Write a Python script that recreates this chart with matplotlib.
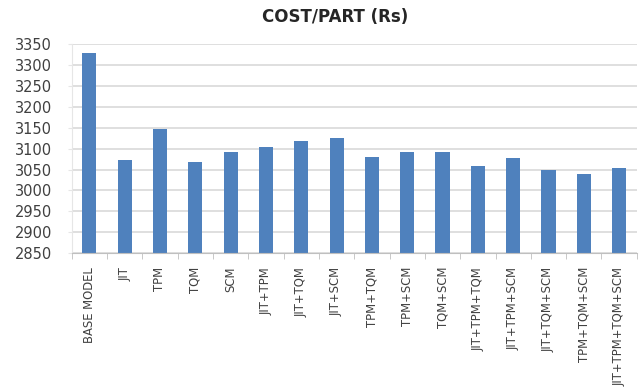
import matplotlib
matplotlib.use("Agg")
import matplotlib.pyplot as plt
from matplotlib.ticker import MultipleLocator

# Cost per part for each improvement strategy
categories = [
    "BASE MODEL", "JIT", "TPM", "TQM", "SCM",
    "JIT+TPM", "JIT+TQM", "JIT+SCM", "TPM+TQM", "TPM+SCM", "TQM+SCM",
    "JIT+TPM+TQM", "JIT+TPM+SCM", "JIT+TQM+SCM", "TPM+TQM+SCM",
    "JIT+TPM+TQM+SCM",
]
cost_per_part = [
    3328, 3073, 3146, 3068, 3091,
    3105, 3118, 3126, 3080, 3093, 3093,
    3058, 3077, 3050, 3040,
    3053,
]

bar_color = "#4F81BD"
grid_color = "#D9D9D9"
text_color = "#404040"

fig = plt.figure(figsize=(6.4, 3.87), dpi=100)
ax = fig.add_axes([0.112, 0.346, 0.883, 0.540])

x = range(len(categories))
ax.bar(x, cost_per_part, width=0.4, color=bar_color, zorder=3)

ax.set_ylim(2850, 3350)
ax.yaxis.set_major_locator(MultipleLocator(50))
ax.set_xlim(-0.5, len(categories) - 0.5)

ax.grid(axis="y", color=grid_color, linewidth=1.2, zorder=0)
for side in ("top", "right"):
    ax.spines[side].set_visible(False)
ax.spines["left"].set_color("#E6E6E6")
ax.spines["bottom"].set_color("#BFBFBF")
ax.spines["bottom"].set_zorder(4)

ax.set_xticks(x)
ax.set_xticklabels(categories, rotation=90, fontsize=9.3, color=text_color,
                   family=["DejaVu Sans"], stretch="condensed")
ax.set_xticks([i - 0.5 for i in range(len(categories) + 1)], minor=True)
ax.tick_params(axis="x", which="major", length=0, pad=10)
ax.tick_params(axis="x", which="minor", length=4, color="#BFBFBF", direction="out")
ax.tick_params(axis="y", length=3, color="#E6E6E6", labelsize=10.5,
               labelcolor=text_color, pad=11)

fig.text(0.524, 0.957, "COST/PART (Rs)", ha="center", va="center",
         fontsize=12, fontweight="bold", color="#262626")

fig.savefig("out.png", dpi=100)
